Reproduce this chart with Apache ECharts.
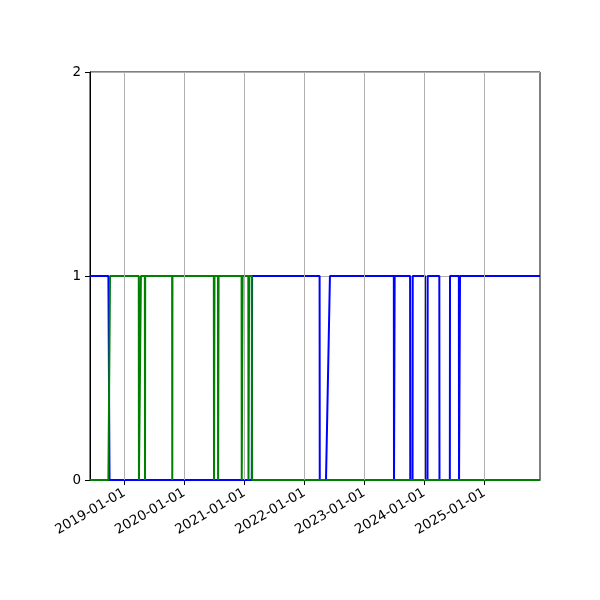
<!DOCTYPE html>
<html>
<head>
<meta charset="utf-8">
<script src="https://cdn.jsdelivr.net/npm/echarts@6/dist/echarts.min.js"></script>
<style>html,body{margin:0;padding:0;background:#fff}#c{width:600px;height:600px}</style>
</head>
<body>
<div id="c"></div>
<script>
const xStart = '2018-06-06';
const xEnd = '2025-12-06';
const tickLabels = ['2019-01-01','2020-01-01','2021-01-01','2022-01-01','2023-01-01','2024-01-01','2025-01-01'];
const yTicks = [0, 1, 2];

const blueDates = ['2018-06-06','2018-09-26','2018-10-03','2021-02-15','2021-02-17','2022-04-04','2022-04-05','2022-05-13','2022-06-06',
  '2023-06-30','2023-07-01','2023-07-04','2023-07-05','2023-10-07','2023-10-08','2023-10-22','2023-10-23',
  '2024-01-06','2024-01-07','2024-01-21','2024-01-22','2024-04-02','2024-04-03','2024-06-05','2024-06-06',
  '2024-07-30','2024-07-31','2024-08-05','2024-08-06','2025-12-06'];
const blueValues = [1,1,0,0,1,1,0,0,1,
  1,0,0,1,1,0,0,1,
  1,0,0,1,1,0,0,1,
  1,0,0,1,1];

const greenDates = ['2018-06-06','2018-09-26','2018-10-06','2019-03-30','2019-03-31','2019-04-11','2019-04-12',
  '2019-05-06','2019-05-07','2019-05-08','2019-10-19','2019-10-20','2019-10-21',
  '2020-06-29','2020-06-30','2020-07-02','2020-07-03','2020-07-24','2020-07-25','2020-07-27','2020-07-28',
  '2020-12-15','2020-12-16','2020-12-20','2020-12-21','2021-01-25','2021-01-26','2021-01-29','2021-01-30',
  '2021-02-15','2021-02-17','2025-12-06'];
const greenValues = [0,0,1,1,0,0,1,
  1,0,1,1,0,1,
  1,0,0,1,1,0,0,1,
  1,0,0,1,1,0,0,1,
  1,0,0];

const ts = s => Date.parse(s + 'T00:00:00Z');
const pad = n => (n < 10 ? '0' : '') + n;
const fmt = v => { const d = new Date(v); return d.getUTCFullYear() + '-' + pad(d.getUTCMonth() + 1) + '-' + pad(d.getUTCDate()); };
const zip = (d, v) => d.map((x, i) => [ts(x), v[i]]);
const tickValues = tickLabels.map(ts);
const font = 'DejaVu Sans';

const chart = echarts.init(document.getElementById('c'), null, {renderer: 'canvas'});
chart.setOption({
  animation: false,
  backgroundColor: '#ffffff',
  grid: {left: 90, top: 72, right: 60, bottom: 120, show: true, borderColor: '#000', borderWidth: 1, backgroundColor: 'transparent'},
  xAxis: {
    type: 'value',
    min: ts(xStart),
    max: ts(xEnd),
    axisLine: {show: true, lineStyle: {color: '#000', width: 1}},
    axisTick: {show: true, length: 5, lineStyle: {color: '#000'}, customValues: tickValues},
    axisLabel: {
      rotate: 30, margin: 12, color: '#000', fontFamily: font, fontSize: 13.5,
      customValues: tickValues,
      formatter: v => fmt(v)
    },
    splitLine: {show: false}
  },
  yAxis: {
    type: 'value',
    min: yTicks[0], max: yTicks[yTicks.length - 1], interval: 1,
    axisLine: {show: true, lineStyle: {color: '#000', width: 1}},
    axisTick: {show: true, length: 5, lineStyle: {color: '#000'}},
    axisLabel: {color: '#000', fontFamily: font, fontSize: 13.5, margin: 9},
    splitLine: {show: true, lineStyle: {color: '#b0b0b0', width: 1}}
  },
  series: [
    {
      type: 'line', data: [], z: 1, silent: true,
      markLine: {
        silent: true, symbol: ['none', 'none'], animation: false,
        label: {show: false},
        lineStyle: {color: '#b0b0b0', width: 1, type: 'solid'},
        emphasis: {disabled: true},
        data: tickValues.map(v => ({xAxis: v}))
      }
    },
    {
      type: 'line', data: zip(blueDates, blueValues), z: 2,
      showSymbol: false, symbol: 'none',
      lineStyle: {color: '#0000ff', width: 2}, itemStyle: {color: '#0000ff'}
    },
    {
      type: 'line', data: zip(greenDates, greenValues), z: 3,
      showSymbol: false, symbol: 'none',
      lineStyle: {color: '#008000', width: 2}, itemStyle: {color: '#008000'}
    }
  ]
});
</script>
</body>
</html>
